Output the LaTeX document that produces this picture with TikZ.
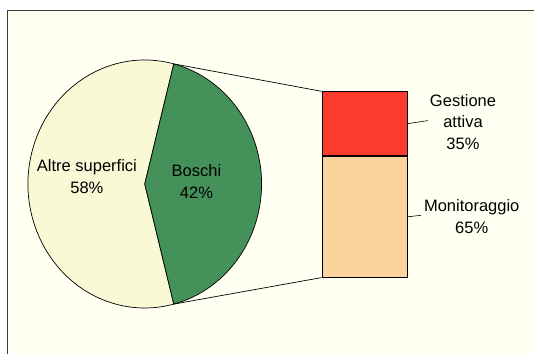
\documentclass[tikz,border=0pt]{standalone}
\usepackage{fontspec}
\setmainfont{Liberation Sans}
\definecolor{panel}{RGB}{255,255,242}
\definecolor{otherarea}{RGB}{249,249,214}
\definecolor{forest}{RGB}{69,145,90}
\definecolor{activered}{RGB}{252,59,44}
\definecolor{peach}{RGB}{250,210,158}
\definecolor{framegray}{RGB}{60,60,60}
\begin{document}
\begin{tikzpicture}[x=1pt,y=1pt,
  outline/.style={draw=black,line width=0.7pt},
  lbl/.style={inner sep=0pt,align=center,font=\fontsize{16.5}{21.7}\selectfont},
  barpart/.style={outline,minimum width=85.5pt,inner sep=0pt,anchor=north west},
  leader/.style={draw=black,line width=0.6pt}]
  \useasboundingbox (0,0) rectangle (534,353);
  % chart area with its frame
  \fill[white] (0,0) rectangle (534,353);
  \filldraw[fill=panel,draw=framegray,line width=1.2pt] (7.5,-20) rectangle (560,342.1);

  % pie
  \coordinate (c) at (144.75,169);
  \filldraw[outline,fill=otherarea] (c) -- ++(75.6:116.8 and 124)
    arc[start angle=75.6,end angle=284.4,x radius=116.8,y radius=124] -- cycle;
  \filldraw[outline,fill=forest] (c) -- ++(75.6:116.8 and 124) coordinate (wtop)
    arc[start angle=75.6,end angle=-75.6,x radius=116.8,y radius=124] coordinate (wbot) -- cycle;
  \node[lbl] (altre) at (86.9,176.5) {Altre superfici\\58\%};
  \node[lbl] (boschi) at (196.5,171.5) {Boschi\\42\%};

  % breakdown bar
  \node[barpart,fill=activered,minimum height=64pt] (gest) at (321.5,261.7) {};
  \node[barpart,fill=peach,minimum height=120.9pt] (mon) at (gest.south west) {};

  % connectors from the wedge to the bar
  \draw[outline] (wtop) -- (gest.north west);
  \draw[outline] (wbot) -- (mon.south west);

  % bar labels with leader lines
  \coordinate (gend) at (427.8,232.4);
  \coordinate (mend) at (421,137.7);
  \draw[leader] (gest.east) -- (gend);
  \draw[leader] (mon.east) -- (mend);
  \node[lbl] (gestlbl) at (463,231) {Gestione\\attiva\\35\%};
  \node[lbl] (monlbl) at (471.7,136.4) {Monitoraggio\\65\%};
\end{tikzpicture}
\end{document}
